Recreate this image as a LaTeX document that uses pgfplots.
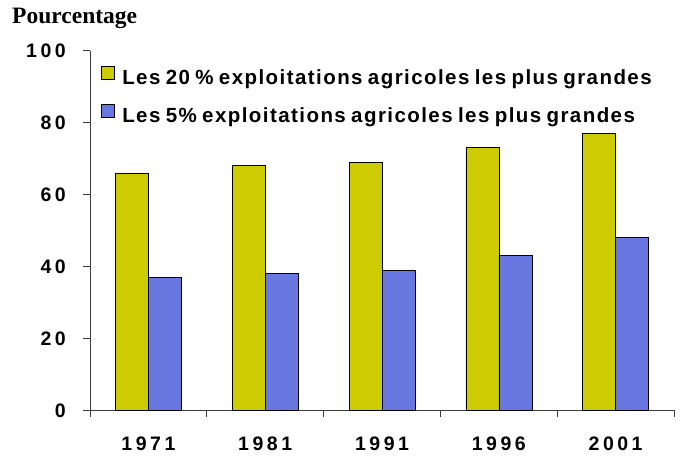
\documentclass[border=0pt]{standalone}
\usepackage{fontspec}
\setmainfont{Liberation Serif}
\newfontfamily\tickfont{Liberation Sans}[LetterSpace=18]
\newfontfamily\legfont{Liberation Sans}[LetterSpace=7, WordSpace=0.75]
\usepackage{pgfplots}
\pgfplotsset{compat=1.18}
\definecolor{barjaune}{RGB}{204,204,0}
\definecolor{barbleu}{RGB}{104,120,224}
\definecolor{axisgray}{RGB}{60,60,60}

\begin{document}
\begin{tikzpicture}
\begin{axis}[
    name=ax,
    scale only axis,
    width=584bp, height=359.6bp,
    xmin=0.5, xmax=5.5,
    ymin=0, ymax=100,
    axis x line*=bottom, axis y line*=left,
    axis line style={axisgray, line width=0.8bp},
    ybar=0pt, bar width=33bp,
    xtick={0.5,1.5,...,5.5},
    xticklabels={1971,1981,1991,1996,2001},
    x tick label as interval,
    ytick={0,20,...,100},
    tick align=outside,
    major tick length=6.7bp,
    tick style={axisgray, line width=0.8bp},
    /pgf/number format/assume math mode=true,
    ticklabel style={font=\tickfont\bfseries\fontsize{19.5bp}{20bp}\selectfont},
    xticklabel style={yshift=-16bp},
    yticklabel style={xshift=-14bp},
    legend cell align=left,
    legend image code/.code={\draw[#1, draw=black, line width=0.6bp] (0bp,0bp) rectangle (13bp,13bp);},
    legend style={draw=none, fill=none, at={(rel axis cs:0,1)}, anchor=north west,
        xshift=8bp, yshift=-13.5bp,
        font=\legfont\bfseries\fontsize{20.5bp}{21bp}\selectfont,
        row sep=15bp, column sep=7.5bp,
        nodes={inner sep=0pt, text height=14.7bp, text depth=4.5bp}},
]
\addplot[fill=barjaune, draw=black, line width=0.6bp]
    coordinates {(1,66) (2,68) (3,69) (4,73) (5,77)};
\addlegendentry{Les 20 \% exploitations agricoles les plus grandes}
\addplot[fill=barbleu, draw=black, line width=0.6bp]
    coordinates {(1,37) (2,38) (3,39) (4,43) (5,48)};
\addlegendentry{Les 5\% exploitations agricoles les plus grandes}
\end{axis}
\node[anchor=base west, inner sep=0pt, font=\rmfamily\bfseries\fontsize{23.5bp}{24bp}\selectfont]
    at ([shift={(-78bp,27.4bp)}]ax.north west) {Pourcentage};
\pgfresetboundingbox
\path ([shift={(-90bp,-45.7bp)}]ax.south west) rectangle ([shift={(10bp,50.7bp)}]ax.north east);
\end{tikzpicture}
\end{document}
